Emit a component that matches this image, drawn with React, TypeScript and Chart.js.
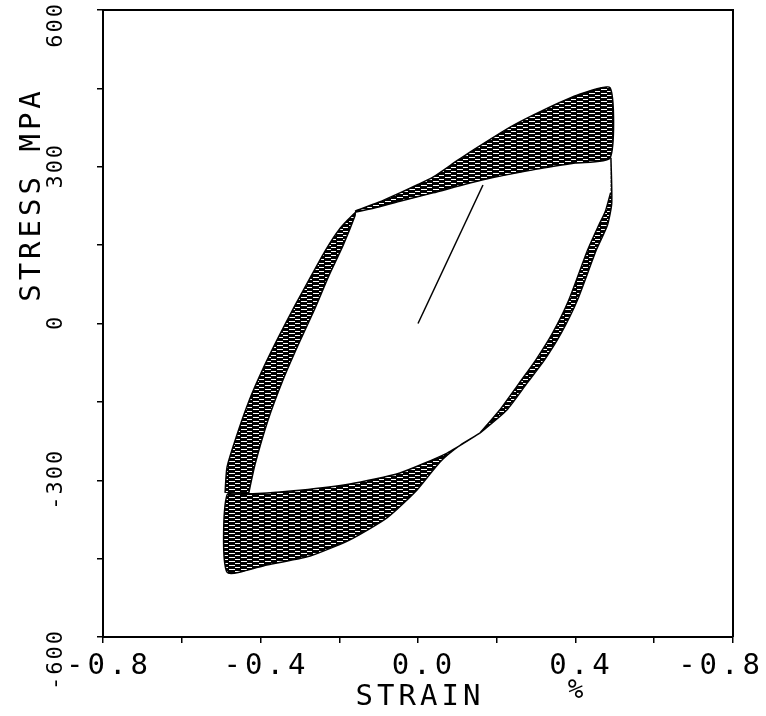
import React, { useEffect, useRef } from 'react';
import { Chart, registerables } from 'chart.js';

Chart.register(...registerables);

// ---- axis text ----
const xTickValues = [-0.8, -0.4, 0, 0.4, 0.8];
const xTickLabels = ['-0.8', '-0.4', '0.0', '0.4', '-0.8'];
const yTickValues = [600, 300, 0, -300, -600];
const yTickLabels = ['600', '300', '0', '-300', '-600'];
const xTitle = 'STRAIN';
const xUnit = '%';
const yTitle = 'STRESS MPA';

// ---- data: strain (%) and stress (MPa) ----
// initial monotonic loading
const monoStrain = [0, 0.165];
const monoStress = [0, 265];

// tension-going branch, upper-right band (both edges from the pivot to the tensile peak)
const upInnerStrain = [-0.16, -0.1, -0.046, 0.038, 0.165, 0.292, 0.399, 0.488];
const upInnerStress = [213, 223, 234, 250, 275, 294, 307, 317];
const upOuterStrain = [-0.16, -0.1, -0.046, 0.0, 0.038, 0.1, 0.14, 0.234, 0.317, 0.404, 0.488];
const upOuterStress = [215, 232, 250, 266, 280, 312, 332, 376, 408, 437, 451];

// unloading branch from the tensile peak (both edges from the peak down to the pivot)
const unOuterStrain = [0.49, 0.492, 0.481, 0.453, 0.405, 0.364, 0.321, 0.277, 0.225, 0.157];
const unOuterStress = [317, 230, 188, 141, 45, -18, -70, -114, -166, -210];
const unInnerStrain = [0.489, 0.476, 0.459, 0.431, 0.383, 0.342, 0.299, 0.257, 0.207, 0.157];
const unInnerStress = [250, 215, 188, 141, 45, -18, -70, -114, -166, -210];

// compression-going branch, lower band (both edges from the pivot to the compressive peak)
const lowInnerStrain = [0.157, 0.074, -0.046, -0.173, -0.3, -0.419, -0.485];
const lowInnerStress = [-210, -248, -286, -307, -319, -326, -328];
const lowOuterStrain = [0.157, 0.107, 0.056, -0.003, -0.079, -0.173, -0.274, -0.384, -0.485];
const lowOuterStress = [-210, -233, -265, -319, -372, -414, -445, -462, -476];

// reloading branch, upper-left band (both edges from the compressive side up to the pivot)
const leftOuterStrain = [-0.49, -0.485, -0.462, -0.428, -0.392, -0.355, -0.312, -0.272, -0.235, -0.2, -0.16];
const leftOuterStress = [-324, -275, -218, -146, -84, -27, 35, 90, 140, 180, 212];
const leftInnerStrain = [-0.432, -0.414, -0.381, -0.343, -0.305, -0.264, -0.226, -0.19, -0.16];
const leftInnerStress = [-332, -270, -185, -108, -42, 25, 92, 150, 206];

const pts = (xs: number[], ys: number[]) => xs.map((x, i) => ({ x, y: ys[i] }));
const band = (a: { x: number; y: number }[], b: { x: number; y: number }[]) => [...a, ...b.slice().reverse()];

const FONT = '"DejaVu Sans Mono", monospace';

const textPlugin = {
  id: 'plotText',
  afterDraw(chart: any) {
    const { ctx, chartArea, scales } = chart;
    const xs = scales.x;
    const ys = scales.y;
    ctx.save();
    ctx.strokeStyle = '#000';
    ctx.lineWidth = 2;
    ctx.beginPath();
    ctx.moveTo(chartArea.left, chartArea.top);
    ctx.lineTo(chartArea.right, chartArea.top);
    ctx.lineTo(chartArea.right, chartArea.bottom);
    ctx.stroke();

    ctx.fillStyle = '#000';
    ctx.textAlign = 'left';
    ctx.textBaseline = 'alphabetic';

    // x tick labels
    ctx.font = `29px ${FONT}`;
    ctx.letterSpacing = '4px';
    xTickValues.forEach((v, i) => {
      const t = xTickLabels[i];
      const w = ctx.measureText(t).width - 4;
      let x = xs.getPixelForValue(v) - w / 2 + 4;
      x = Math.max(4, Math.min(chart.width - 6 - w, x));
      ctx.fillText(t, x, chartArea.bottom + 37);
    });

    // x title
    {
      const w = ctx.measureText(xTitle).width - 4;
      ctx.fillText(xTitle, xs.getPixelForValue(0) - w / 2, chartArea.bottom + 68);
    }
    ctx.font = `26px ${FONT}`;
    ctx.letterSpacing = '0px';
    {
      const w = ctx.measureText(xUnit).width;
      ctx.fillText(xUnit, xs.getPixelForValue(0.4) - w / 2, chartArea.bottom + 61);
    }

    // y tick labels (rotated)
    ctx.font = `22px ${FONT}`;
    ctx.letterSpacing = '2px';
    yTickValues.forEach((v, i) => {
      const t = yTickLabels[i];
      const w = ctx.measureText(t).width - 2;
      const py = ys.getPixelForValue(v);
      const edge = i === 0 || i === yTickValues.length - 1;
      const topY = edge ? py - 6 : py - w / 2;
      ctx.save();
      ctx.translate(chartArea.left - 41, topY + w);
      ctx.rotate(-Math.PI / 2);
      ctx.fillText(t, 0, 0);
      ctx.restore();
    });

    // y title
    ctx.font = `29px ${FONT}`;
    ctx.letterSpacing = '4px';
    {
      const w = ctx.measureText(yTitle).width - 4;
      const cy = (chartArea.top + chartArea.bottom) / 2 - 127;
      ctx.save();
      ctx.translate(chartArea.left - 63, cy + w / 2);
      ctx.rotate(-Math.PI / 2);
      ctx.fillText(yTitle, 0, 0);
      ctx.restore();
    }
    ctx.restore();
  },
};

export default function App() {
  const ref = useRef<HTMLCanvasElement | null>(null);
  useEffect(() => {
    const canvas = ref.current!;
    const pc = document.createElement('canvas');
    pc.width = 12;
    pc.height = 4;
    const p = pc.getContext('2d')!;
    p.fillStyle = '#000';
    p.fillRect(0, 0, 12, 4);
    p.fillStyle = '#fff';
    p.fillRect(1, 1, 6, 1);
    p.fillRect(7, 3, 5, 1);
    const pattern = canvas.getContext('2d')!.createPattern(pc, 'repeat')!;

    const bandStyle = {
      showLine: true,
      fill: 'shape' as const,
      backgroundColor: pattern,
      borderColor: '#000',
      borderWidth: 1.5,
      pointRadius: 0,
      tension: 0.2,
    };

    const chart = new Chart(canvas, {
      type: 'scatter',
      data: {
        datasets: [
          { ...bandStyle, data: band(pts(upInnerStrain, upInnerStress), pts(upOuterStrain, upOuterStress)) },
          { ...bandStyle, data: band(pts(unOuterStrain, unOuterStress), pts(unInnerStrain, unInnerStress)) },
          { ...bandStyle, data: band(pts(lowInnerStrain, lowInnerStress), pts(lowOuterStrain, lowOuterStress)) },
          { ...bandStyle, data: band(pts(leftOuterStrain, leftOuterStress), pts(leftInnerStrain, leftInnerStress)) },
          {
            showLine: true,
            data: pts(monoStrain, monoStress),
            borderColor: '#000',
            borderWidth: 1.5,
            pointRadius: 0,
            fill: false,
          },
        ],
      },
      options: {
        animation: false,
        responsive: false,
        events: [],
        layout: { padding: { left: 103, right: 33, top: 10, bottom: 79 } },
        plugins: { legend: { display: false }, tooltip: { enabled: false } },
        scales: {
          x: {
            type: 'linear',
            min: -0.8,
            max: 0.8,
            ticks: { display: false, stepSize: 0.2 },
            grid: { drawOnChartArea: false, drawTicks: true, tickLength: 6, color: '#000', lineWidth: 1.5 },
            border: { display: true, color: '#000', width: 2 },
            afterFit: (s: any) => { s.height = 0; },
          },
          y: {
            type: 'linear',
            min: -600,
            max: 600,
            ticks: { display: false, stepSize: 150 },
            grid: { drawOnChartArea: false, drawTicks: true, tickLength: 6, color: '#000', lineWidth: 1.5 },
            border: { display: true, color: '#000', width: 2 },
            afterFit: (s: any) => { s.width = 0; },
          },
        },
      },
      plugins: [textPlugin],
    });
    return () => chart.destroy();
  }, []);

  return (
    <div style={{ position: 'fixed', left: 0, top: 0, width: 766, height: 716, background: '#fff' }}>
      <canvas ref={ref} width={766} height={716} style={{ width: 766, height: 716, display: 'block' }} />
    </div>
  );
}
